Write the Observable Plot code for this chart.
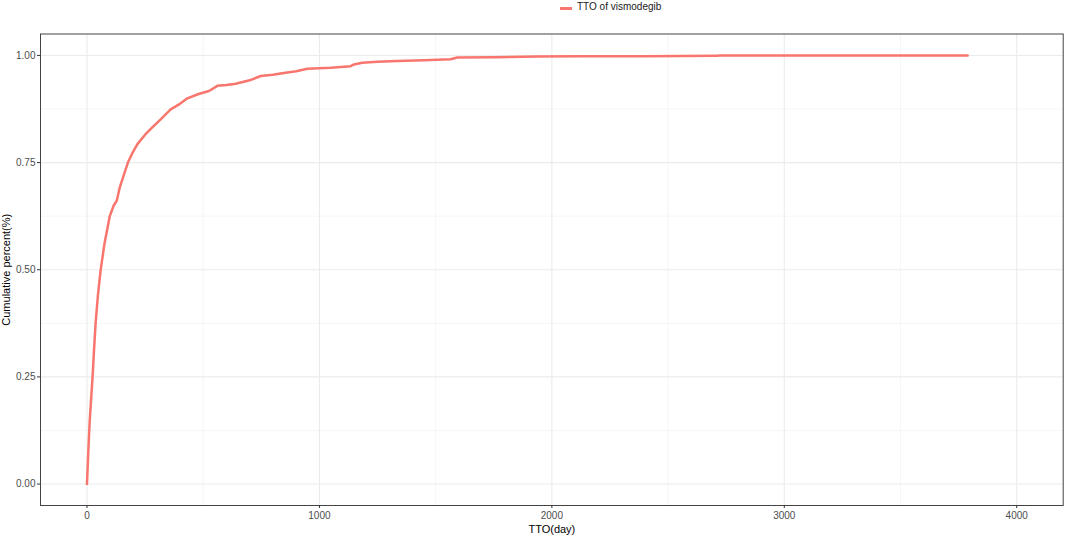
<!DOCTYPE html>
<html>
<head>
<meta charset="utf-8">
<script src="https://cdn.jsdelivr.net/npm/d3@7"></script>
<script src="https://cdn.jsdelivr.net/npm/@observablehq/plot@0.6"></script>
<style>
  body { margin: 0; background: #fff; font-family: "Liberation Sans", Arial, sans-serif; }
  #legend { position: relative; width: 1065px; height: 18px; }
  #legend .sw { position: absolute; left: 560px; top: 7px; width: 12px; height: 2.5px; background: #F8766D; }
  #legend .tx { position: absolute; left: 577px; top: 1px; font-size: 10px; color: #1a1a1a; line-height: 12px; }
  svg { display: block; }
</style>
</head>
<body>
<div id="legend"><div class="sw"></div><div class="tx">TTO of vismodegib</div></div>
<div id="chart"></div>
<script>
const seriesName = "TTO of vismodegib";
const ttoDays = [0, 6, 12, 18, 24, 30, 37, 47, 59, 75, 98, 115, 128, 141, 158, 176, 195, 217, 250, 281, 317, 360, 400, 432, 480, 525, 561, 600, 640, 700, 747, 800, 847, 900, 948, 1048, 1134, 1149, 1184, 1250, 1335, 1450, 1564, 1593, 1750, 1937, 2124, 2400, 2712, 2720, 3789];
const cumPercent = [0, 0.08, 0.15, 0.2, 0.25, 0.31, 0.375, 0.44, 0.5, 0.56, 0.625, 0.65, 0.661, 0.692, 0.72, 0.75, 0.772, 0.793, 0.815, 0.832, 0.851, 0.874, 0.887, 0.9, 0.91, 0.917, 0.929, 0.931, 0.934, 0.942, 0.952, 0.955, 0.959, 0.963, 0.969, 0.971, 0.975, 0.979, 0.983, 0.985, 0.987, 0.989, 0.991, 0.995, 0.996, 0.9975, 0.998, 0.998, 0.999, 1.0, 1.0];
const xMajor = [0, 1000, 2000, 3000, 4000];
const xMinor = [500, 1500, 2500, 3500];
const yMajor = [0, 0.25, 0.5, 0.75, 1.0];
const yMinor = [0.125, 0.375, 0.625, 0.875];

const data = ttoDays.map((d, i) => ({tto: d, cum: cumPercent[i]}));

const chart = Plot.plot({
  width: 1065,
  height: 519,
  marginLeft: 40,
  marginRight: 2.3,
  marginTop: 15.5,
  marginBottom: 32,
  style: {fontFamily: "'Liberation Sans', Arial, sans-serif", fontSize: "10px", background: "#fff"},
  x: {domain: [-200, 4200]},
  y: {domain: [-0.05, 1.05]},
  marks: [
    Plot.gridX(xMinor, {stroke: "#F0F0F0", strokeOpacity: 1, strokeWidth: 0.6}),
    Plot.gridY(yMinor, {stroke: "#F0F0F0", strokeOpacity: 1, strokeWidth: 0.6}),
    Plot.gridX(xMajor, {stroke: "#EBEBEB", strokeOpacity: 1, strokeWidth: 1.1}),
    Plot.gridY(yMajor, {stroke: "#EBEBEB", strokeOpacity: 1, strokeWidth: 1.1}),
    Plot.line(data, {x: "tto", y: "cum", stroke: "#F8766D", strokeWidth: 2.5}),
    Plot.frame({stroke: "#444", strokeWidth: 1}),
    Plot.axisX(xMajor, {tickSize: 3, tickPadding: 3, stroke: "#333", fill: "#4D4D4D", label: "TTO(day)", labelAnchor: "center", labelArrow: "none", labelOffset: 27, tickFormat: d => String(d)}),
    Plot.axisY(yMajor, {tickSize: 3, tickPadding: 2, stroke: "#333", fill: "#4D4D4D", label: "Cumulative percent(%)", labelAnchor: "center", labelArrow: "none", labelOffset: 38, tickFormat: d => d.toFixed(2)})
  ]
});
chart.querySelectorAll("g[aria-label='x-axis label'] text, g[aria-label='y-axis label'] text").forEach(t => {
  t.setAttribute("fill", "#000");
  t.style.fontSize = "11px";
});
document.getElementById("chart").appendChild(chart);
</script>
</body>
</html>
